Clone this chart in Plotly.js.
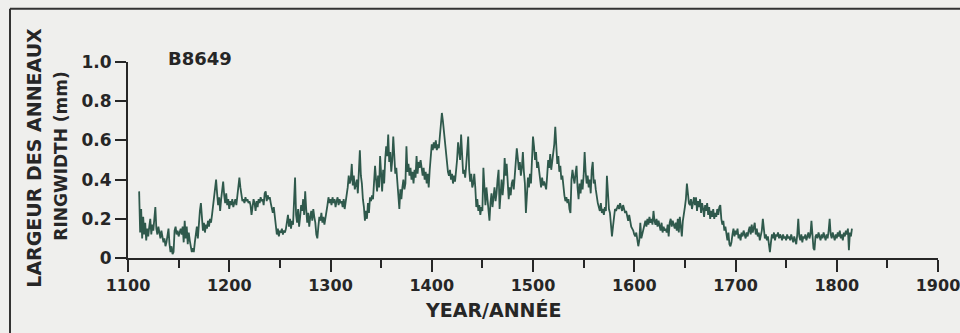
<!DOCTYPE html>
<html>
<head>
<meta charset="utf-8">
<script src="https://cdn.plot.ly/plotly-3.0.1.min.js"></script>
<style>
  html, body { margin: 0; padding: 0; background: #efefed; }
  #chart { width: 960px; height: 333px; }
</style>
</head>
<body>
<div id="chart"></div>
<script>
// Ring width (mm), one value per year; each array starts at the year in startYears
const startYears = [1111, 1201, 1301, 1401, 1501, 1601, 1701, 1801];

const rw1101_1200 = [
  0.34, 0.13, 0.25, 0.10, 0.21, 0.12, 0.18, 0.09, 0.15, 0.11,
  0.16, 0.20, 0.12, 0.17, 0.14, 0.21, 0.26, 0.15, 0.12, 0.16,
  0.13, 0.10, 0.14, 0.11, 0.08, 0.10, 0.06, 0.08, 0.12, 0.15,
  0.07, 0.03, 0.06, 0.02, 0.03, 0.14, 0.16, 0.12, 0.14, 0.11,
  0.13, 0.15, 0.12, 0.16, 0.08, 0.19, 0.10, 0.16, 0.07, 0.13,
  0.09, 0.06, 0.03, 0.05, 0.03, 0.08, 0.12, 0.16, 0.10, 0.20,
  0.24, 0.28, 0.19, 0.14, 0.18, 0.13, 0.17, 0.15, 0.19, 0.16,
  0.20, 0.18, 0.22, 0.26, 0.31, 0.36, 0.40, 0.33, 0.27, 0.31,
  0.24, 0.30, 0.34, 0.39, 0.32, 0.28, 0.33, 0.27, 0.30, 0.25
];
const rw1201_1300 = [
  0.29, 0.27, 0.30, 0.26, 0.28, 0.30, 0.27, 0.33, 0.38, 0.41,
  0.36, 0.33, 0.29, 0.30, 0.28, 0.31, 0.29, 0.30, 0.28, 0.29,
  0.27, 0.22, 0.25, 0.30, 0.28, 0.24, 0.29, 0.26, 0.30, 0.28,
  0.31, 0.29, 0.30, 0.27, 0.33, 0.34, 0.29, 0.32, 0.30, 0.31,
  0.28, 0.25, 0.23, 0.26, 0.21, 0.17, 0.12, 0.15, 0.11, 0.14,
  0.13, 0.15, 0.12, 0.14, 0.13, 0.15, 0.18, 0.22, 0.16, 0.20,
  0.15, 0.19, 0.17, 0.26, 0.41, 0.22, 0.18, 0.25, 0.16, 0.21,
  0.27, 0.24, 0.30, 0.22, 0.34, 0.25, 0.18, 0.23, 0.16, 0.21,
  0.24, 0.19, 0.25, 0.21, 0.18, 0.12, 0.10, 0.16, 0.21, 0.19,
  0.23, 0.18, 0.21, 0.17, 0.20, 0.22, 0.27, 0.31, 0.28, 0.30
];
const rw1301_1400 = [
  0.27, 0.31, 0.28, 0.30, 0.26, 0.29, 0.31, 0.27, 0.30, 0.28,
  0.29, 0.26, 0.30, 0.25, 0.28, 0.33, 0.36, 0.42, 0.38, 0.40,
  0.48, 0.37, 0.42, 0.35, 0.38, 0.40, 0.33, 0.45, 0.55, 0.42,
  0.38, 0.30, 0.26, 0.19, 0.24, 0.20, 0.28, 0.23, 0.31, 0.29,
  0.32, 0.30, 0.38, 0.47, 0.40, 0.34, 0.42, 0.36, 0.52, 0.40,
  0.34, 0.45, 0.38, 0.50, 0.57, 0.52, 0.63, 0.49, 0.54, 0.44,
  0.50, 0.62, 0.48, 0.43, 0.46, 0.38, 0.31, 0.25, 0.35, 0.30,
  0.36, 0.40, 0.35, 0.38, 0.57, 0.44, 0.48, 0.42, 0.46, 0.40,
  0.44, 0.38, 0.45, 0.41, 0.52, 0.43, 0.49, 0.46, 0.50, 0.47,
  0.42, 0.46, 0.40, 0.44, 0.38, 0.43, 0.36, 0.45, 0.52, 0.58
];
const rw1401_1500 = [
  0.55, 0.59, 0.56, 0.60, 0.55, 0.58, 0.56, 0.62, 0.66, 0.74,
  0.70, 0.64, 0.60, 0.55, 0.46, 0.44, 0.42, 0.45, 0.40, 0.43,
  0.38, 0.42, 0.39, 0.44, 0.50, 0.59, 0.52, 0.50, 0.63, 0.48,
  0.43, 0.45, 0.41, 0.47, 0.55, 0.62, 0.45, 0.39, 0.43, 0.36,
  0.38, 0.43, 0.36, 0.26, 0.30, 0.24, 0.27, 0.22, 0.26, 0.24,
  0.46, 0.32, 0.27, 0.36, 0.30, 0.22, 0.19, 0.28, 0.33, 0.26,
  0.31, 0.36, 0.29, 0.33, 0.40, 0.45, 0.25, 0.35, 0.40, 0.32,
  0.38, 0.51, 0.42, 0.48, 0.39, 0.30, 0.36, 0.32, 0.38, 0.40,
  0.35, 0.43, 0.47, 0.56, 0.51, 0.45, 0.49, 0.42, 0.46, 0.54,
  0.44, 0.38, 0.23, 0.30, 0.41, 0.36, 0.43, 0.38, 0.52, 0.62
];
const rw1501_1600 = [
  0.57, 0.50, 0.54, 0.46, 0.49, 0.44, 0.40, 0.36, 0.41, 0.37,
  0.39, 0.36, 0.35, 0.42, 0.50, 0.46, 0.53, 0.45, 0.49, 0.53,
  0.58, 0.67, 0.52, 0.48, 0.52, 0.44, 0.47, 0.40, 0.42, 0.36,
  0.32, 0.29, 0.31, 0.28, 0.30, 0.25, 0.23, 0.40, 0.45, 0.41,
  0.38, 0.43, 0.47, 0.36, 0.30, 0.38, 0.33, 0.40, 0.35, 0.42,
  0.54, 0.44, 0.38, 0.42, 0.36, 0.40, 0.33, 0.45, 0.49, 0.38,
  0.40, 0.35, 0.30, 0.28, 0.26, 0.24, 0.28, 0.23, 0.25, 0.22,
  0.26, 0.24, 0.42, 0.29, 0.25, 0.23, 0.18, 0.11, 0.16, 0.22,
  0.25, 0.24, 0.26, 0.27, 0.25, 0.28, 0.26, 0.24, 0.27, 0.25,
  0.23, 0.24, 0.21, 0.19, 0.22, 0.18, 0.16, 0.15, 0.14, 0.12
];
const rw1601_1700 = [
  0.11, 0.13, 0.08, 0.06, 0.09, 0.18, 0.10, 0.12, 0.14, 0.17,
  0.19, 0.16, 0.20, 0.17, 0.21, 0.18, 0.20, 0.17, 0.24, 0.19,
  0.17, 0.20, 0.16, 0.19, 0.17, 0.14, 0.18, 0.13, 0.16, 0.14,
  0.15, 0.13, 0.17, 0.11, 0.18, 0.20, 0.16, 0.19, 0.17, 0.15,
  0.18, 0.14, 0.20, 0.13, 0.21, 0.17, 0.11, 0.19, 0.24, 0.26,
  0.30, 0.38, 0.33, 0.28, 0.27, 0.30, 0.25, 0.29, 0.31, 0.27,
  0.31, 0.24, 0.29, 0.26, 0.30, 0.23, 0.28, 0.25, 0.21, 0.27,
  0.24, 0.28, 0.22, 0.26, 0.20, 0.24, 0.21, 0.25, 0.20, 0.23,
  0.21, 0.25, 0.22, 0.26, 0.27, 0.20, 0.17, 0.19, 0.14, 0.16,
  0.12, 0.09, 0.13, 0.07, 0.06, 0.08, 0.12, 0.15, 0.11, 0.14
];
const rw1701_1800 = [
  0.12, 0.15, 0.10, 0.12, 0.09, 0.13, 0.11, 0.14, 0.12, 0.10,
  0.13, 0.11, 0.14, 0.16, 0.12, 0.17, 0.13, 0.15, 0.18, 0.12,
  0.15, 0.11, 0.13, 0.09, 0.12, 0.14, 0.20, 0.13, 0.10, 0.12,
  0.09, 0.11, 0.06, 0.03, 0.08, 0.12, 0.10, 0.13, 0.09, 0.12,
  0.11, 0.13, 0.10, 0.12, 0.11, 0.09, 0.12, 0.10, 0.11, 0.09,
  0.12, 0.10, 0.11, 0.09, 0.12, 0.10, 0.08, 0.11, 0.09, 0.07,
  0.12, 0.20, 0.11, 0.09, 0.12, 0.08, 0.11, 0.10, 0.12, 0.09,
  0.11, 0.13, 0.10, 0.12, 0.19, 0.09, 0.05, 0.04, 0.11, 0.12,
  0.10, 0.13, 0.11, 0.09, 0.12, 0.10, 0.13, 0.11, 0.09, 0.12,
  0.10, 0.14, 0.20, 0.12, 0.10, 0.13, 0.11, 0.09, 0.12, 0.10
];
const rw1801_1815 = [
  0.13, 0.11, 0.14, 0.10, 0.12, 0.09, 0.13, 0.11, 0.14, 0.12,
  0.15, 0.04, 0.13, 0.11, 0.15
];

const xTickVals = [1100, 1200, 1300, 1400, 1500, 1600, 1700, 1800, 1900];
const xTickText = ['1100', '1200', '1300', '1400', '1500', '1600', '1700', '1800', '1900'];
const yTickVals = [0, 0.2, 0.4, 0.6, 0.8, 1.0];
const yTickText = ['0', '0.2', '0.4', '0.6', '0.8', '1.0'];
const sampleLabel = 'B8649';

const blocks = [rw1101_1200, rw1201_1300, rw1301_1400, rw1401_1500,
                rw1501_1600, rw1601_1700, rw1701_1800, rw1801_1815];
const years = [], widths = [];
blocks.forEach((arr, b) => {
  arr.forEach((v, i) => { years.push(startYears[b] + i); widths.push(v); });
});

const ink = '#262626';
const fontFam = 'DejaVu Sans, Liberation Sans, sans-serif';

const trace = {
  x: years, y: widths, type: 'scatter', mode: 'lines',
  line: { color: '#2f594c', width: 1.8 },
  hoverinfo: 'skip'
};

const layout = {
  width: 960, height: 333,
  margin: { l: 128, r: 22, t: 62, b: 75 },
  paper_bgcolor: '#efefed', plot_bgcolor: '#efefed',
  showlegend: false,
  font: { family: fontFam, color: ink, size: 16, weight: 700 },
  xaxis: {
    range: [1100, 1900], tickvals: xTickVals, ticktext: xTickText,
    showgrid: false, zeroline: false, showline: true, linecolor: ink, linewidth: 2,
    ticks: 'outside', ticklen: 12, tickwidth: 2, tickcolor: ink,
    ticklabeloverflow: 'allow',
    tickfont: { family: fontFam, size: 16, color: ink, weight: 700 },
    minor: { dtick: 50, tick0: 1100, ticks: 'outside', ticklen: 8, tickwidth: 2, tickcolor: ink, showgrid: false }
  },
  yaxis: {
    range: [0, 1], tickvals: yTickVals, ticktext: yTickText,
    showgrid: false, zeroline: false, showline: true, linecolor: ink, linewidth: 2,
    ticks: 'outside', ticklen: 11, tickwidth: 2, tickcolor: ink,
    ticklabeloverflow: 'allow',
    tickfont: { family: fontFam, size: 17, color: ink, weight: 700 }
  },
  annotations: [
    { text: sampleLabel, xref: 'paper', yref: 'paper', x: (200 - 128) / 810, y: (258.3 - 59) / 196,
      showarrow: false, font: { size: 18, family: fontFam, color: ink, weight: 700 }, xanchor: 'center', yanchor: 'middle' },
    { text: 'LARGEUR DES ANNEAUX', xref: 'paper', yref: 'paper', x: (34 - 128) / 810, y: (258.3 - 158) / 196,
      textangle: -90, showarrow: false, font: { size: 19, family: fontFam, color: ink, weight: 700 }, xanchor: 'center', yanchor: 'middle' },
    { text: 'RINGWIDTH (mm)', xref: 'paper', yref: 'paper', x: (61 - 128) / 810, y: (258.3 - 156) / 196,
      textangle: -90, showarrow: false, font: { size: 17, family: fontFam, color: ink, weight: 700 }, xanchor: 'center', yanchor: 'middle' },
    { text: 'YEAR/ANNÉE', xref: 'paper', yref: 'paper', x: (493 - 128) / 810, y: (258.3 - 310) / 196,
      showarrow: false, font: { size: 19, family: fontFam, color: ink, weight: 700 }, xanchor: 'center', yanchor: 'middle' }
  ],
  shapes: [
    { type: 'line', xref: 'paper', yref: 'paper', x0: (10 - 128) / 810, x1: (960 - 128) / 810,
      y0: (258.3 - 9) / 196, y1: (258.3 - 9) / 196, line: { color: '#333', width: 2 } },
    { type: 'line', xref: 'paper', yref: 'paper', x0: (10 - 128) / 810, x1: (10 - 128) / 810,
      y0: (258.3 - 9) / 196, y1: (258.3 - 340) / 196, line: { color: '#333', width: 2 } }
  ]
};

Plotly.newPlot('chart', [trace], layout, { staticPlot: true, displayModeBar: false });
</script>
</body>
</html>
